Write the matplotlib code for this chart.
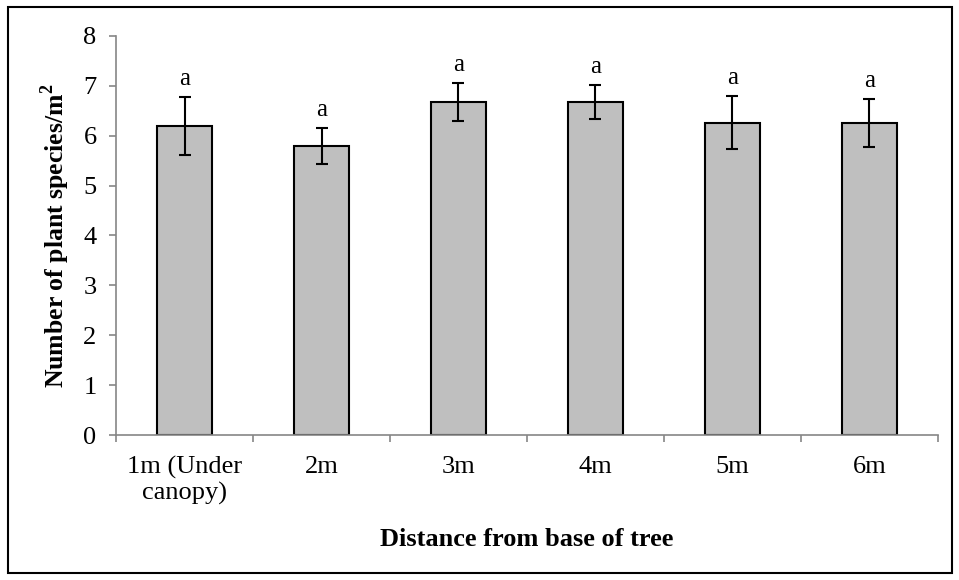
import matplotlib
matplotlib.use('Agg')
import matplotlib.pyplot as plt
from matplotlib.patches import Rectangle
import numpy as np

plt.rcParams['font.family'] = ['Liberation Serif', 'DejaVu Serif']

# species richness by distance from the trunk
distancias = ['1m (Under\ncanopy)', '2m', '3m', '4m', '5m', '6m']
especies = [6.2, 5.8, 6.67, 6.67, 6.26, 6.26]
errores = [0.58, 0.36, 0.38, 0.34, 0.53, 0.48]
letras = ['a', 'a', 'a', 'a', 'a', 'a']

gris_eje = '#868686'

fig = plt.figure(figsize=(9.59, 5.80), dpi=100)
ax = fig.add_axes([0.121, 0.25, 0.857, 0.688])

x = np.arange(len(distancias))
ax.bar(x, especies, width=0.4, color='#bfbfbf', edgecolor='black', linewidth=1.5, zorder=2)
ax.errorbar(x, especies, yerr=errores, fmt='none', ecolor='black', elinewidth=1.5,
            capsize=4, capthick=1.5, zorder=3)

for xi, v, e, l in zip(x, especies, errores, letras):
    ax.annotate(l, (xi, v + e), xytext=(0, 5), textcoords='offset points',
                ha='center', va='bottom', fontsize=18)

ax.set_xlim(-0.5, len(distancias) - 0.5)
ax.set_ylim(0, 8)
ax.set_yticks(range(0, 9))
ax.set_xticks(np.arange(len(distancias) + 1) - 0.5, minor=False)
ax.set_xticklabels([])
ax.set_xticks(x, minor=True)
ax.set_xticklabels(distancias, minor=True, fontsize=19, linespacing=1.15)
ax.tick_params(axis='x', which='minor', length=0, pad=15)
ax.tick_params(axis='x', which='major', length=5, color=gris_eje, width=1.2, direction='out')
ax.tick_params(axis='y', length=5, color=gris_eje, width=1.2, direction='out', labelsize=19, pad=9)

for s in ['top', 'right']:
    ax.spines[s].set_visible(False)
for s in ['left', 'bottom']:
    ax.spines[s].set_color(gris_eje)
    ax.spines[s].set_linewidth(1.2)

ax.set_ylabel('Number of plant species/m$^\\mathregular{2}$', fontsize=18.5, fontweight='bold', labelpad=8)
ax.set_xlabel('Distance from base of tree', fontsize=19, fontweight='bold', labelpad=17)

# marco exterior
fig.patches.append(Rectangle((8 / 959, 7 / 580), 944 / 959, 566 / 580, transform=fig.transFigure,
                             fill=False, edgecolor='black', linewidth=1.5))

fig.savefig('out.png', dpi=100)
